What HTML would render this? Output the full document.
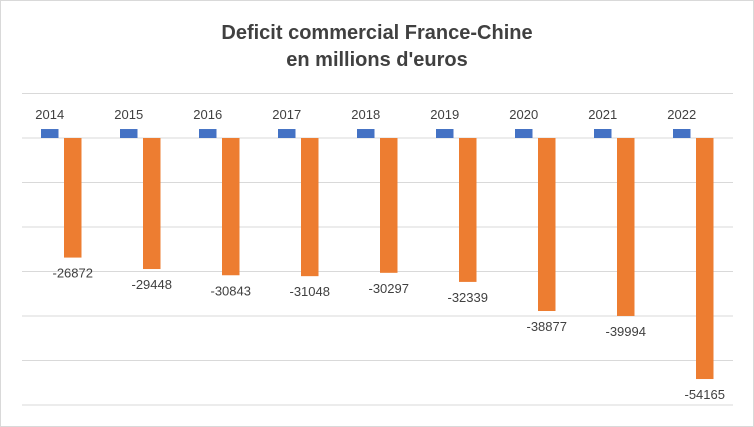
<!DOCTYPE html>
<html><head><meta charset="utf-8"><style>
body{margin:0;background:#fff}
svg{display:block;font-family:"Liberation Sans",sans-serif}
</style></head><body>
<svg id="c" width="754" height="427">
<rect x="0.5" y="0.5" width="753" height="426" fill="#fff" stroke="#d9d9d9"/>
<text x="377" y="39" text-anchor="middle" font-size="20" font-weight="bold" fill="#404040">Deficit commercial France-Chine</text>
<text x="377" y="66" text-anchor="middle" font-size="20" font-weight="bold" fill="#404040">en millions d'euros</text>
<g id="grid"></g><g id="bars"></g>
</svg>
<script>
const categories=["2014","2015","2016","2017","2018","2019","2020","2021","2022"];
const yearValues=[2014,2015,2016,2017,2018,2019,2020,2021,2022];
const deficitValues=[-26872,-29448,-30843,-31048,-30297,-32339,-38877,-39994,-54165];
const gridTicks=[10000,0,-10000,-20000,-30000,-40000,-50000,-60000];
const NS="http://www.w3.org/2000/svg";
const x0=22,x1=733,zeroY=138,pxPer=44.5/10000;
const bw=(x1-x0)/categories.length;
const y=v=>zeroY-v*pxPer;
function mk(t,a,p){const e=document.createElementNS(NS,t);for(const k in a)e.setAttribute(k,a[k]);p.appendChild(e);return e;}
const g=document.getElementById('grid'),b=document.getElementById('bars');
gridTicks.forEach(t=>{const l=mk('line',{x1:x0,x2:x1,y1:y(t),y2:y(t),stroke:'#d9d9d9','stroke-width':1},g);

});
categories.forEach((c,i)=>{
 const cx=x0+bw*i;
 const bx=cx+19,ox=cx+42,w=17.5;
 const r1=mk('rect',{x:bx,y:y(yearValues[i]),width:w,height:zeroY-y(yearValues[i]),fill:'#4472c4'},b);
 
 
 const t1=mk('text',{x:bx+w/2,y:y(yearValues[i])-10,'text-anchor':'middle','font-size':13,fill:'#404040'},b);
 t1.textContent=c;
 
 
 const r2=mk('rect',{x:ox,y:zeroY,width:w,height:y(deficitValues[i])-zeroY,fill:'#ed7d31'},b);
 
 
 const t2=mk('text',{x:ox+w/2,y:y(deficitValues[i])+20,'text-anchor':'middle','font-size':13,fill:'#404040'},b);
 t2.textContent=deficitValues[i];
 
 
});
</script>
</body></html>
